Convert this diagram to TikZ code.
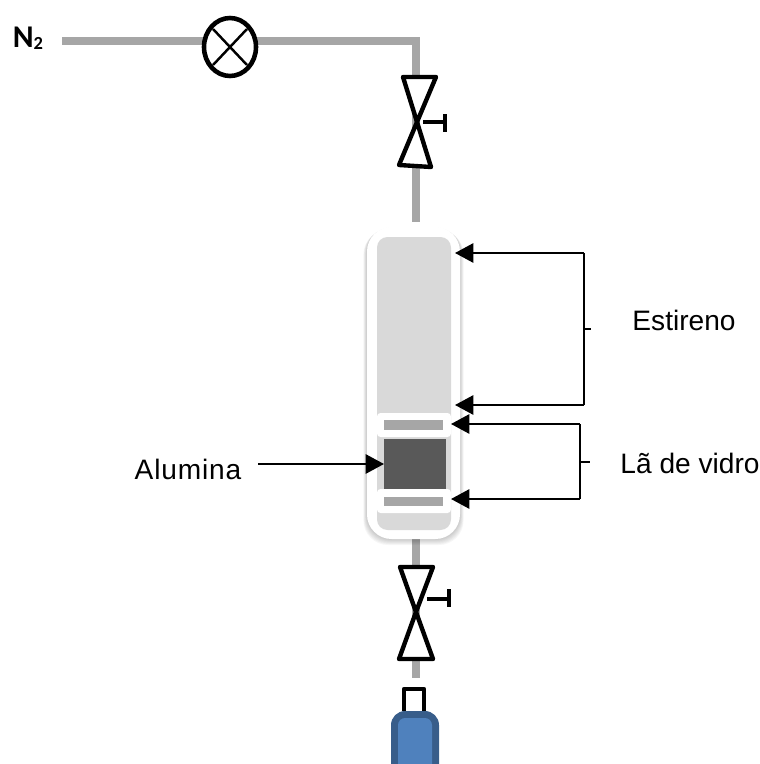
\documentclass[tikz,border=0pt]{standalone}
\usepackage{fontspec}
\setmainfont{Liberation Sans}
\newfontfamily\labelbold{Carlito}
\newfontfamily\spacedfont[LetterSpace=3]{Liberation Sans}
\usetikzlibrary{arrows.meta}
\definecolor{pipegray}{HTML}{A6A6A6}
\definecolor{columngray}{HTML}{D9D9D9}
\definecolor{bedgray}{HTML}{595959}
\definecolor{cylfill}{HTML}{4F81BD}
\definecolor{cyledge}{HTML}{385D8A}
\tikzset{
    pipe/.style={draw=pipegray, line width=4pt},
    valve/.style={draw=black, fill=white, line width=2.5pt, line join=round},
    handle/.style={draw=black, line width=2.5pt},
    pointer/.style={draw=black, line width=1.25pt, -{Triangle[length=10.5pt,width=11pt]}},
    bracket/.style={draw=black, line width=1.25pt},
    tag/.style={font=\fontsize{16}{18}\selectfont, inner sep=0pt}
}
\begin{document}
\begin{tikzpicture}[x=0.02cm, y=-0.02cm]
    \useasboundingbox (0,0) rectangle (760,764);

    % Gas line
    \coordinate (lineStart) at (62,41);
    \coordinate (lineCorner) at (416,41);
    \coordinate (columnIn) at (416,222);
    \coordinate (columnOut) at (416,535);
    \coordinate (lineEnd) at (416,678);
    \draw[pipe] (lineStart) -- (lineCorner) -- (columnIn);
    \draw[pipe] (columnOut) -- (lineEnd);

    % Labels
    \node[inner sep=0pt, font=\fontsize{18}{20}\selectfont\labelbold\bfseries] (nitrogen) at (28,38) {N\raisebox{-1pt}{\fontsize{10.5}{11}\selectfont 2}};
    \node[tag] (estireno) at (684,320) {Estireno};
    \node[tag] (vidro) at (690,463) {Lã de vidro};
    \node[tag, font=\fontsize{16}{18}\selectfont\spacedfont] (alumina) at (188,469) {Alumina};

    % Flow meter
    \draw[fill=white, line width=2.6pt] (230,47) ellipse (26 and 29);
    \draw[line width=1.4pt] (213,29) -- (247,65);
    \draw[line width=1.4pt] (247,29) -- (213,65);

    % Upper valve
    \draw[valve] (403,77) -- (436,77) -- (417,122) -- cycle;
    \draw[valve] (399,165) -- (431,167) -- (417,122) -- cycle;
    \draw[handle] (423,122) -- (445,122);
    \draw[handle] (445,114) -- (445,132);

    % Lower valve
    \draw[valve] (400,567) -- (433,567) -- (416,612) -- cycle;
    \draw[valve] (399,659) -- (433,659) -- (416,612) -- cycle;
    \draw[handle] (427,599) -- (449,599);
    \draw[handle] (449,589) -- (449,607);

    % Column shadow
    \foreach \s in {1,...,6}
        \fill[black, opacity=0.035, rounded corners=14] (367-\s*0.6,227+\s*0.5) rectangle (460+\s*0.6,539+\s*1.0);

    % Column
    \fill[white, rounded corners=14] (367,227) rectangle (460,539);
    \fill[columngray, rounded corners=6] (377,237) rectangle (451,530);

    % Packing
    \fill[bedgray] (384,439) rectangle (446,489);
    \fill[white, rounded corners=2] (377,413) rectangle (451,437);
    \fill[white, rounded corners=2] (377,489) rectangle (451,513);
    \fill[pipegray] (384,420) rectangle (443,430);
    \fill[pipegray] (384,497) rectangle (443,506);

    % Arrows to column
    \coordinate (estTop) at (584,253);
    \coordinate (estBottom) at (584,405);
    \coordinate (estTick) at (584,329);
    \coordinate (estTickEnd) at (591,329);
    \coordinate (estTopTip) at (455,253);
    \coordinate (estBottomTip) at (455,405);
    \draw[bracket] (estTop) -- (estBottom);
    \draw[bracket] (estTick) -- (estTickEnd);
    \draw[pointer] (estTop) -- (estTopTip);
    \draw[pointer] (estBottom) -- (estBottomTip);

    \coordinate (wool) at (580,424);
    \coordinate (woolBottom) at (580,499);
    \coordinate (woolTick) at (580,462);
    \coordinate (woolTickEnd) at (590,462);
    \coordinate (woolTip) at (451,424);
    \coordinate (woolBottomTip) at (451,499);
    \draw[bracket] (wool) -- (woolBottom);
    \draw[bracket] (woolTick) -- (woolTickEnd);
    \draw[pointer] (wool) -- (woolTip);
    \draw[pointer] (woolBottom) -- (woolBottomTip);

    \coordinate (aluminaStart) at (258,464);
    \coordinate (aluminaTip) at (384,464);
    \draw[pointer] (aluminaStart) -- (aluminaTip);

    % Collection bottle
    \draw[line width=2.4pt, line join=round] (404,711) -- (404,689) -- (424,689) -- (424,711);
    \fill[cyledge, rounded corners=8] (391,711) rectangle (439,790);
    \fill[cylfill, rounded corners=4] (398,718) rectangle (432,790);
\end{tikzpicture}
\end{document}
